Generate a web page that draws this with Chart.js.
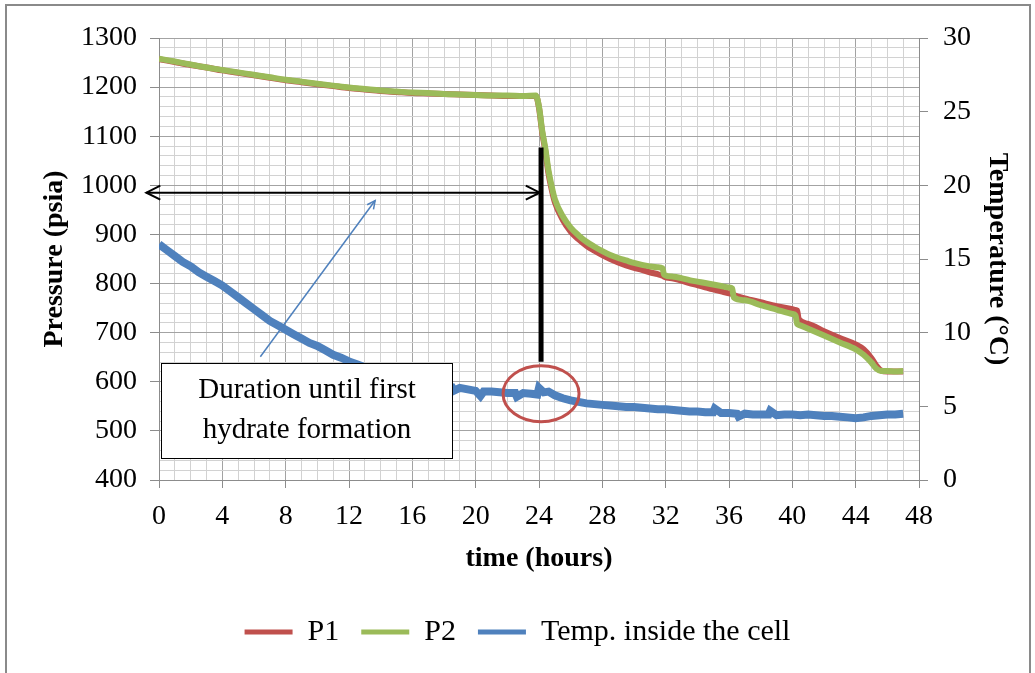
<!DOCTYPE html>
<html><head><meta charset="utf-8">
<script src="https://cdn.jsdelivr.net/npm/chart.js@4.4.1/dist/chart.umd.min.js"></script>
<style>html,body{margin:0;padding:0;background:#fff;}#wrap{width:1035px;height:673px;position:relative;}canvas{display:block;}</style>
</head><body><div id="wrap"><canvas id="c" width="1035" height="673"></canvas></div>
<script>
// ---- data ----
const pressureTime = [0,1,2,3,4,5,6,7,8,9,10,11,12,13,14,15,16,17,18,19,20,21,22,23,23.8,24.0,24.2,24.4,24.6,24.8,25.0,25.5,26,26.5,27,27.5,28,28.5,29,29.5,30,30.5,31,31.5,31.8,31.9,32.5,33,33.5,34,34.5,35,35.5,36,36.2,36.3,37,38,39,40,40.2,40.3,40.4,41,42,43,44,44.5,45,45.3,45.6,46,46.5,47];
const p1Values = [1257,1251,1245,1240,1234,1229,1224,1219,1214,1210,1206,1202,1198,1195,1192,1190,1188,1187,1186,1185,1184,1183,1182,1182,1182,1158,1108,1070,1024,992,966,930,906,890,877,867,858,850,843,837,832,828,823,819,816,814,810,806,801,797,792,788,784,780,779,777,770,762,754,748,746,745,728,718,703,689,676,666,648,633,623,621,621,621];
const p2Values = [1258,1252,1246,1240,1235,1230,1225,1220,1215,1211,1207,1203,1199,1196,1193,1191,1189,1188,1186,1185,1184,1183,1183,1182,1183,1160,1112,1075,1030,998,972,937,914,898,885,875,866,858,852,847,842,838,835,833,831,818,814,811,807,804,801,798,795,792,790,772,766,756,747,738,735,718,716,708,694,680,666,655,639,627,622,622,621,622];
const tempTime = [0,0.5,1,1.5,2,2.5,3,3.5,4,4.5,5,5.5,6,6.5,7,7.5,8,8.5,9,9.5,10,10.5,11,11.5,12,12.5,13,13.5,14,14.5,15,15.5,16,16.5,17,17.5,18,18.5,18.6,19,19.5,20,20.3,20.5,21,21.5,22,22.5,22.6,23,23.5,23.9,24.0,24.3,24.6,25,25.5,26,26.5,27,27.5,28,28.5,29,29.5,30,30.5,31,31.5,32,32.5,33,33.5,34,34.5,35,35.1,35.5,36,36.5,36.6,37,37.5,38,38.5,38.6,39,39.5,40,40.5,41,41.5,42,42.5,43,43.5,44,44.5,45,45.5,46,46.5,47];
const tempValues = [16.0,15.6,15.2,14.8,14.5,14.1,13.8,13.5,13.2,12.8,12.4,12.0,11.6,11.2,10.8,10.5,10.2,9.9,9.6,9.3,9.1,8.8,8.5,8.3,8.05,7.85,7.65,7.5,7.35,7.2,7.05,6.9,6.8,6.65,6.55,6.45,6.35,6.3,6.05,6.25,6.15,6.05,5.7,6.0,6.0,5.95,5.9,5.9,5.65,5.9,5.85,5.8,6.25,5.95,6.0,5.75,5.55,5.4,5.3,5.2,5.15,5.1,5.05,5.0,4.95,4.95,4.9,4.85,4.8,4.8,4.75,4.7,4.65,4.65,4.6,4.6,4.85,4.55,4.55,4.5,4.3,4.5,4.45,4.45,4.45,4.7,4.4,4.45,4.45,4.4,4.45,4.4,4.35,4.35,4.3,4.25,4.2,4.25,4.35,4.4,4.45,4.45,4.5];
const xTickLabels = [0,4,8,12,16,20,24,28,32,36,40,44,48];
const leftTickLabels = [400,500,600,700,800,900,1000,1100,1200,1300];
const rightTickLabels = [0,5,10,15,20,25,30];
const seriesNames = ['P1','P2','Temp. inside the cell'];
const boxText = ['Duration until first','hydrate formation'];

// annotation anchors (data units)
const durationArrow = {from:-0.8, to:24.05, p:985};
const onsetLine = {t:24.13, pTop:1077, pBottom:641};
const pointer = {t0:6.4, p0:651, t1:13.65, p1:969};
const onsetCircle = {t:24.13, temp:5.86, tRx:2.4, tempRy:1.9};
const noteBox = {t0:0.13, t1:18.5, pTop:639, pBottom:445};

// ---- style ----
const FONT = "'Liberation Serif','Times New Roman',serif";
const MINOR = '#D2D2D2', MAJOR = '#A3A3A3', AXIS = '#8C8C8C';
const RED = '#C0504D', GREEN = '#9BBB59', BLUE = '#4F81BD';

const mk = (ts, vs) => ts.map((t,i)=>({x:t, y:vs[i]}));

const annot = {
  id:'annot',
  beforeDraw(chart){
    const ctx = chart.ctx; ctx.save(); ctx.fillStyle='#fff'; ctx.fillRect(0,0,chart.width,chart.height); ctx.restore();
  },
  afterDatasetsDraw(chart){
    const {ctx, scales:{x, y, y1}} = chart;
    ctx.save();
    // red ellipse
    const cx = x.getPixelForValue(onsetCircle.t), cy = y1.getPixelForValue(onsetCircle.temp);
    const rx = x.getPixelForValue(onsetCircle.t + onsetCircle.tRx) - cx;
    const ry = y1.getPixelForValue(onsetCircle.temp) - y1.getPixelForValue(onsetCircle.temp + onsetCircle.tempRy);
    ctx.beginPath(); ctx.ellipse(cx, cy, rx, ry, 0, 0, Math.PI*2);
    ctx.strokeStyle = RED; ctx.lineWidth = 3; ctx.stroke();
    // black onset line
    const lx = x.getPixelForValue(onsetLine.t);
    ctx.beginPath(); ctx.moveTo(lx, y.getPixelForValue(onsetLine.pTop)); ctx.lineTo(lx, y.getPixelForValue(onsetLine.pBottom));
    ctx.strokeStyle = '#000'; ctx.lineWidth = 5; ctx.lineCap='butt'; ctx.stroke();
    // double arrow
    const ax0 = x.getPixelForValue(durationArrow.from), ax1 = x.getPixelForValue(durationArrow.to), ay = y.getPixelForValue(durationArrow.p);
    ctx.beginPath(); ctx.moveTo(ax0, ay); ctx.lineTo(ax1, ay);
    ctx.lineWidth = 2; ctx.stroke();
    ctx.beginPath();
    ctx.moveTo(ax0+14, ay-7); ctx.lineTo(ax0, ay); ctx.lineTo(ax0+14, ay+7);
    ctx.moveTo(ax1-14, ay-7); ctx.lineTo(ax1, ay); ctx.lineTo(ax1-14, ay+7);
    ctx.lineWidth = 2; ctx.stroke();
    // blue pointer
    const bx0 = x.getPixelForValue(pointer.t0), by0 = y.getPixelForValue(pointer.p0);
    const bx1 = x.getPixelForValue(pointer.t1), by1 = y.getPixelForValue(pointer.p1);
    ctx.beginPath(); ctx.moveTo(bx0, by0); ctx.lineTo(bx1, by1);
    ctx.strokeStyle = BLUE; ctx.lineWidth = 1.5; ctx.stroke();
    const ang = Math.atan2(by1-by0, bx1-bx0), L = 9;
    ctx.beginPath();
    ctx.moveTo(bx1 - L*Math.cos(ang-0.45), by1 - L*Math.sin(ang-0.45));
    ctx.lineTo(bx1, by1);
    ctx.lineTo(bx1 - L*Math.cos(ang+0.45), by1 - L*Math.sin(ang+0.45));
    ctx.stroke();
    // note box
    const rx0 = Math.round(x.getPixelForValue(noteBox.t0))+0.5, rx1 = Math.round(x.getPixelForValue(noteBox.t1))+0.5;
    const ry0 = Math.round(y.getPixelForValue(noteBox.pTop))+0.5, ry1 = Math.round(y.getPixelForValue(noteBox.pBottom))+0.5;
    ctx.fillStyle = '#fff'; ctx.fillRect(rx0, ry0, rx1-rx0, ry1-ry0);
    ctx.strokeStyle = '#000'; ctx.lineWidth = 1; ctx.strokeRect(rx0, ry0, rx1-rx0, ry1-ry0);
    ctx.fillStyle = '#000'; ctx.font = "29px " + FONT; ctx.textAlign='center'; ctx.textBaseline='middle';
    const mx = (rx0+rx1)/2, h = ry1-ry0;
    ctx.fillText(boxText[0], mx, ry0 + h*0.28);
    ctx.fillText(boxText[1], mx, ry0 + h*0.70);
    ctx.restore();
  },
  afterDraw(chart){
    const ctx = chart.ctx; ctx.save();
    ctx.strokeStyle = '#8A8A8A'; ctx.lineWidth = 2;
    ctx.strokeRect(6, 5, 1024, 720);
    ctx.restore();
  }
};

const tickFont = {family:FONT, size:28};
const titleFont = {family:FONT, size:28, weight:'bold'};

new Chart(document.getElementById('c'), {
  type:'line',
  data:{
    datasets:[
      {label:seriesNames[0], data:mk(pressureTime,p1Values), borderColor:RED, backgroundColor:RED, borderWidth:6, pointRadius:0, yAxisID:'y', order:2, cubicInterpolationMode:'monotone'},
      {label:seriesNames[1], data:mk(pressureTime,p2Values), borderColor:GREEN, backgroundColor:GREEN, borderWidth:6, pointRadius:0, yAxisID:'y', order:1, cubicInterpolationMode:'monotone'},
      {label:seriesNames[2], data:mk(tempTime,tempValues), borderColor:BLUE, backgroundColor:BLUE, borderWidth:8, pointRadius:0, yAxisID:'y1', order:0}
    ]
  },
  options:{
    responsive:false, animation:false, devicePixelRatio:1,
    layout:{padding:{top:38, left:0, right:0, bottom:16}},
    plugins:{
      tooltip:{enabled:false},
      legend:{position:'bottom', labels:{
        font:{family:FONT, size:30}, color:'#000', boxWidth:48, boxHeight:5, padding:22,
        sort:(a,b)=>a.datasetIndex-b.datasetIndex,
        generateLabels:(chart)=>Chart.defaults.plugins.legend.labels.generateLabels(chart).map(l=>Object.assign(l,{fillStyle:l.strokeStyle, lineWidth:0}))
      }}
    },
    scales:{
      x:{type:'linear', min:0, max:48,
        afterBuildTicks:s=>{s.ticks = Array.from({length:49},(_,i)=>({value:i}));},
        ticks:{autoSkip:false, maxRotation:0, minRotation:0, font:tickFont, color:'#000', padding:12,
          callback:v=> xTickLabels.includes(v) ? String(v) : ''},
        grid:{color:c=> (c.tick && xTickLabels.includes(c.tick.value)) ? MAJOR : MINOR,
          tickColor:c=> (c.tick && xTickLabels.includes(c.tick.value)) ? AXIS : 'rgba(0,0,0,0)', tickLength:8, lineWidth:1},
        border:{color:AXIS},
        title:{display:true, text:'time (hours)', font:titleFont, color:'#000', padding:{top:0,bottom:19}},
        afterFit:s=>{s.height = 115;}
      },
      y:{type:'linear', position:'left', min:400, max:1300,
        afterBuildTicks:s=>{s.ticks = Array.from({length:46},(_,i)=>({value:400+i*20}));},
        ticks:{autoSkip:false, font:tickFont, color:'#000', padding:13,
          callback:v=> leftTickLabels.includes(v) ? String(v) : ''},
        grid:{color:c=> (c.tick && leftTickLabels.includes(c.tick.value)) ? MAJOR : MINOR,
          tickColor:c=> (c.tick && leftTickLabels.includes(c.tick.value)) ? AXIS : 'rgba(0,0,0,0)', tickLength:9, lineWidth:1},
        border:{color:AXIS},
        title:{display:true, text:'Pressure (psia)', font:titleFont, color:'#000', padding:{top:38,bottom:0}},
        afterFit:s=>{s.width = 159;}
      },
      y1:{type:'linear', position:'right', min:0, max:30,
        afterBuildTicks:s=>{s.ticks = rightTickLabels.map(v=>({value:v}));},
        ticks:{font:tickFont, color:'#000', padding:15, callback:v=>String(v)},
        grid:{drawOnChartArea:false, tickColor:AXIS, tickLength:9},
        border:{color:AXIS},
        title:{display:true, text:'Temperature (°C)', font:titleFont, color:'#000', padding:{top:21,bottom:0}},
        afterFit:s=>{s.width = 116;}
      }
    }
  },
  plugins:[annot]
});
</script></body></html>
